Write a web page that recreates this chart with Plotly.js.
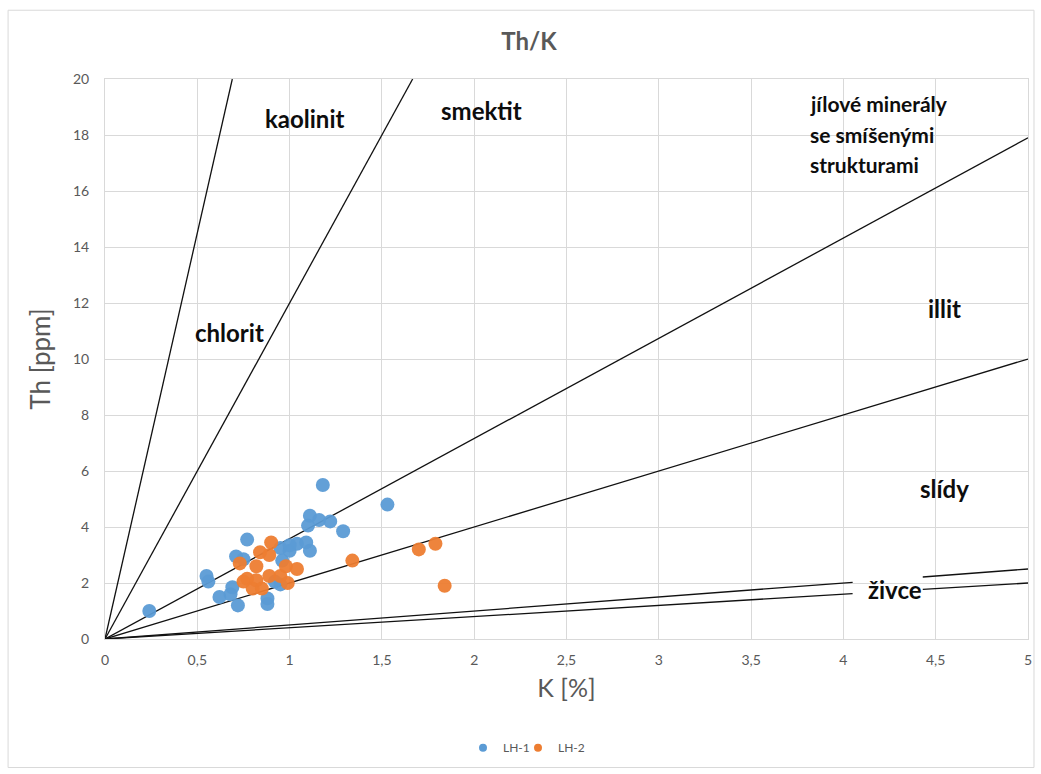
<!DOCTYPE html>
<html>
<head>
<meta charset="utf-8">
<script src="https://cdn.plot.ly/plotly-3.0.1.min.js"></script>
<style>html,body{margin:0;padding:0;background:#fff}#chart{width:1041px;height:774px}</style>
</head>
<body>
<div id="chart"></div>
<script>
// LH-1 samples: K [%] and Th [ppm]
var lh1K  = [0.24,0.55,0.56,0.62,0.68,0.69,0.72,0.71,0.77,0.75,0.88,0.88,0.95,0.95,0.96,1.00,1.04,1.09,1.11,1.10,1.11,1.16,1.22,1.18,1.29,1.53,0.92,1.00];
var lh1Th = [1.00,2.25,2.05,1.50,1.60,1.85,1.20,2.95,3.55,2.85,1.45,1.25,1.95,3.25,2.80,3.15,3.40,3.45,3.15,4.05,4.40,4.25,4.20,5.50,3.85,4.80,2.05,3.35];
// LH-2 samples
var lh2K  = [0.73,0.77,0.75,0.80,0.82,0.82,0.84,0.85,0.89,0.90,0.89,0.95,0.98,0.99,1.04,1.34,1.70,1.79,1.84];
var lh2Th = [2.70,2.15,2.05,1.80,2.10,2.60,3.10,1.80,3.00,3.45,2.25,2.25,2.60,2.00,2.50,2.80,3.20,3.40,1.90];

// Th/K boundary ratios and their extents in K
var boundaryRatio = [29, 12, 3.58, 2.0, 0.5, 0.4];
var boundaryEndK  = [20/29, 20/12, 5, 5, 5, 5];
var gapStartK = [null, null, null, null, 4.05, 4.05];
var gapEndK   = [null, null, null, null, 4.43, 4.43];

// Region labels
var labelText = ["kaolinit","smektit","jílové minerály","se smíšenými","strukturami","chlorit","illit","slídy","živce"];
var labelK    = [1.083, 2.04, 3.81, 3.81, 3.81, 0.677, 4.55, 4.55, 4.28];
var labelTh   = [18.6, 18.86, 19.13, 18.03, 16.93, 10.96, 11.8, 5.37, 1.78];
var labelAnchor = ["center","center","left","left","left","center","center","center","center"];
var labelSize = [24, 24, 21, 21, 21, 24, 24, 24, 24];

var xTicks = [0,0.5,1,1.5,2,2.5,3,3.5,4,4.5,5];
var yTicks = [0,2,4,6,8,10,12,14,16,18,20];

var FONT = "Lato, Carlito, Calibri, 'Open Sans', sans-serif";
var GREY = "#595959";
var BLUE = "#5b9bd5", ORANGE = "#ed7d31";

var traces = [];
for (var i = 0; i < boundaryRatio.length; i++) {
  var xs, ys;
  if (gapStartK[i] !== null) {
    xs = [0, gapStartK[i], null, gapEndK[i], boundaryEndK[i]];
  } else {
    xs = [0, boundaryEndK[i]];
  }
  ys = xs.map(function (v) { return v === null ? null : v * boundaryRatio[i]; });
  traces.push({x: xs, y: ys, mode: "lines", type: "scatter", line: {color: "#111", width: 1.3},
    hoverinfo: "skip", showlegend: false, connectgaps: false});
}
traces.push({x: lh1K, y: lh1Th, mode: "markers", type: "scatter", name: "LH-1",
  marker: {color: BLUE, size: 14, opacity: 0.95}, showlegend: false, legendgroup: "a"});
traces.push({x: lh2K, y: lh2Th, mode: "markers", type: "scatter", name: "LH-2",
  marker: {color: ORANGE, size: 14, opacity: 0.95}, showlegend: false, legendgroup: "b"});
// legend entries with small dots
traces.push({x: [null], y: [null], mode: "markers", type: "scatter", name: "LH-1",
  marker: {color: BLUE, size: 8}, legendgroup: "a", legend: "legend"});
traces.push({x: [null], y: [null], mode: "markers", type: "scatter", name: "LH-2",
  marker: {color: ORANGE, size: 8}, legendgroup: "b", legend: "legend2"});

var annotations = labelText.map(function (t, i) {
  return {x: labelK[i], y: labelTh[i], xref: "x", yref: "y", text: "<b>" + t + "</b>",
    showarrow: false, xanchor: labelAnchor[i], yanchor: "middle",
    font: {family: FONT, size: labelSize[i], color: "#0d0d0d"}};
});

var axisCommon = {
  showgrid: true, gridcolor: "#d9d9d9", gridwidth: 1,
  zeroline: false, showline: true, linecolor: "#d9d9d9", linewidth: 1, mirror: true,
  ticks: "", tickfont: {family: FONT, size: 14, color: GREY}
};

var legendCommon = {orientation: "h", xanchor: "left", y: -0.194, yanchor: "middle",
  font: {family: FONT, size: 12, color: GREY}, itemwidth: 30, bgcolor: "rgba(0,0,0,0)"};

var layout = {
  width: 1041, height: 774,
  margin: {l: 105, r: 13, t: 79, b: 133},
  paper_bgcolor: "#fff", plot_bgcolor: "#fff",
  separators: ", ",
  font: {family: FONT, color: GREY},
  title: {text: "<b>Th/K</b>", x: 529/1041, xanchor: "center", y: 1 - 42/774, yanchor: "middle",
    font: {family: FONT, size: 24, color: GREY}},
  xaxis: Object.assign({}, axisCommon, {range: [0, 5], tickvals: xTicks,
    ticktext: xTicks.map(function(v){return String(v).replace('.', ',');}),
    ticklabelstandoff: 8,
    title: {text: "K [%]", font: {family: FONT, size: 25, color: GREY}, standoff: 12}}),
  yaxis: Object.assign({}, axisCommon, {range: [0, 20], tickvals: yTicks,
    ticklabelstandoff: 12,
    title: {text: "Th [ppm]", font: {family: FONT, size: 26, color: GREY}, standoff: 14}}),
  legend: Object.assign({}, legendCommon, {x: (463 - 105) / 923}),
  legend2: Object.assign({}, legendCommon, {x: (518 - 105) / 923}),
  annotations: annotations,
  shapes: [{type: "rect", xref: "paper", yref: "paper", x0: -0.105, x1: 1.0065, y0: -0.2295, y1: 1.1228,
    line: {color: "#d9d9d9", width: 1}, fillcolor: "rgba(0,0,0,0)", layer: "below"}],
  showlegend: true
};

Plotly.newPlot("chart", traces, layout, {displayModeBar: false, staticPlot: true});
</script>
</body>
</html>
